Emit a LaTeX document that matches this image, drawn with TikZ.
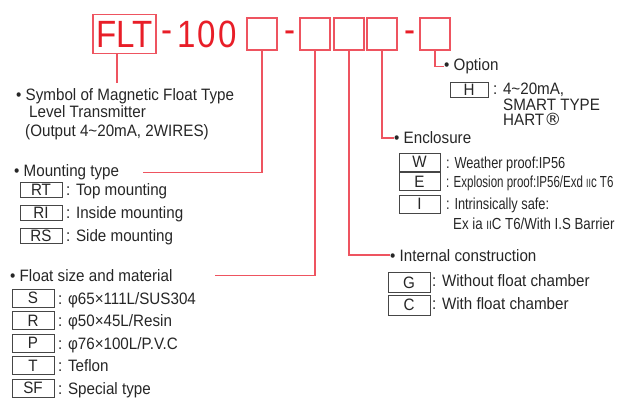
\documentclass[tikz,border=0pt]{standalone}
\usepackage{fontspec}
\setmainfont{Liberation Sans}[FakeStretch=0.92]
\newfontfamily\narrowfont{Liberation Sans}[FakeStretch=0.8]
\newfontfamily\tightfont{Liberation Sans}[FakeStretch=0.72]
\newfontfamily\midfont{Liberation Sans}[FakeStretch=0.83]
\newfontfamily\codefont{Liberation Sans}[FakeStretch=0.87]
\newfontfamily\symfont{DejaVu Sans}
\definecolor{linered}{RGB}{238,84,96}
\definecolor{flred}{RGB}{232,30,40}
\definecolor{txt}{RGB}{38,38,38}
\definecolor{boxgray}{RGB}{70,70,70}
\newcommand{\romtwo}{{\fontsize{12}{12}\selectfont II}}

\begin{document}
\begin{tikzpicture}[x=1pt,y=-1pt,
  slot/.style={draw=linered,line width=1.2pt,minimum width=30pt,minimum height=32pt,inner sep=0pt},
  conn/.style={draw=linered,line width=1.3pt},
  code/.style={draw=boxgray,line width=0.8pt,minimum width=42pt,minimum height=15pt,inner sep=0pt,text=txt,font=\fontsize{16.5}{16}\selectfont},
  lbl/.style={anchor=base west,inner sep=0pt,text=txt,font=\fontsize{16.5}{18}\selectfont},
  big/.style={anchor=base west,inner sep=0pt,text=flred,font=\codefont\fontsize{38}{38}\selectfont}]
\useasboundingbox (0,0) rectangle (621,401);

% model number
\node [draw=linered,line width=1.2pt,minimum width=63pt,minimum height=39pt,inner sep=0pt,
  text=flred,font=\codefont\fontsize{38}{38}\selectfont] (f) at (124.5,34) {FLT};
\node [big] (d1) at (161,43) {-};
\node [big] (n) at (177,48) {\addfontfeature{LetterSpace=6}100};
\node [slot] (b1) at (262,34) {};
\node [big] (d2) at (284,43) {-};
\node [slot] (b2) at (315,34) {};
\node [slot] (b3) at (349,34) {};
\node [slot] (b4) at (382,34) {};
\node [big] (d3) at (404,43) {-};
\node [slot] (b5) at (435,34) {};

% symbol
\node [lbl] (s) at (16,101) {• Symbol of Magnetic Float Type};
\node [lbl] (s2) at (29,118) {Level Transmitter};
\node [lbl] (s3) at (25,137) {(Output 4\textasciitilde 20mA, 2WIRES)};
\coordinate (st) at (117,83);
\draw [conn] (st |- f.south) -- (st);

% mounting type
\node [lbl] (m) at (14,176) {• Mounting type};
\node [code] (rt) at (41,189.5) {RT};
\node [lbl] (rtl) at (66,195.5) {: Top mounting};
\node [code] (ri) at (41,212.5) {RI};
\node [lbl] (ril) at (66,218.5) {: Inside mounting};
\node [code] (rs) at (41,235.5) {RS};
\node [lbl] (rsl) at (66,241.5) {: Side mounting};
\coordinate (mc) at (143,172.5);
\draw [conn] (b1.south) |- (mc);

% float size and material
\node [lbl] (fs) at (10,281) {• Float size and material};
\node [code,minimum height=18pt] (fS) at (33,298) {S};
\node [lbl] (fSl) at (58,304) {: φ65×111L/SUS304};
\node [code,minimum height=18pt] (fR) at (33,320.5) {R};
\node [lbl] (fRl) at (58,326.5) {: φ50×45L/Resin};
\node [code,minimum height=18pt] (fP) at (33,343) {P};
\node [lbl] (fPl) at (58,349) {: φ76×100L/P.V.C};
\node [code,minimum height=18pt] (fT) at (33,365.5) {T};
\node [lbl] (fTl) at (58,371.5) {: Teflon};
\node [code,minimum height=18pt] (fF) at (33,388) {SF};
\node [lbl] (fFl) at (58,394) {: Special type};
\coordinate (fc) at (215,275.5);
\draw [conn] (b2.south) |- (fc);

% option
\node [lbl] (op) at (444,71) {• Option};
\draw [conn] (b5.south) |- (op.west);
\node [code,minimum width=38pt] (oh) at (469,90) {H};
\node [lbl] (ohl) at (493,95) {: 4\textasciitilde 20mA,};
\node [lbl] (ohl2) at (503,111) {SMART TYPE};
\node [lbl] (ohl3) at (503,126) {HART{\symfont\fontsize{17}{17}\selectfont ®}};

% enclosure
\node [lbl] (en) at (394,144) {• Enclosure};
\draw [conn] (b4.south) |- (en.west);
\node [code,minimum width=41pt,minimum height=18pt] (ew) at (419.5,162) {W};
\node [lbl,font=\narrowfont\fontsize{16}{18}\selectfont] (ewl) at (446,168) {: Weather proof:IP56};
\node [code,minimum width=41pt,minimum height=18pt] (ee) at (419.5,181.5) {E};
\node [lbl,font=\tightfont\fontsize{16}{18}\selectfont] (eel) at (446,187.5) {: Explosion proof:IP56/Exd \romtwo c T6};
\node [code,minimum width=41pt,minimum height=18pt] (ei) at (419.5,204) {I};
\node [lbl,font=\narrowfont\fontsize{16}{18}\selectfont] (eil) at (446,209) {: Intrinsically safe:};
\node [lbl,font=\midfont\fontsize{16}{18}\selectfont] (eil2) at (453,229) {Ex ia \romtwo C T6/With I.S Barrier};

% internal construction
\node [lbl] (ic) at (390,261) {• Internal construction};
\draw [conn] (b3.south) |- (ic.west);
\node [code,minimum height=20pt] (ig) at (409,282.5) {G};
\node [lbl] (igl) at (432,286) {: Without float chamber};
\node [code,minimum height=20pt] (icc) at (409,305) {C};
\node [lbl] (iccl) at (432,309) {: With float chamber};

\end{tikzpicture}
\end{document}
